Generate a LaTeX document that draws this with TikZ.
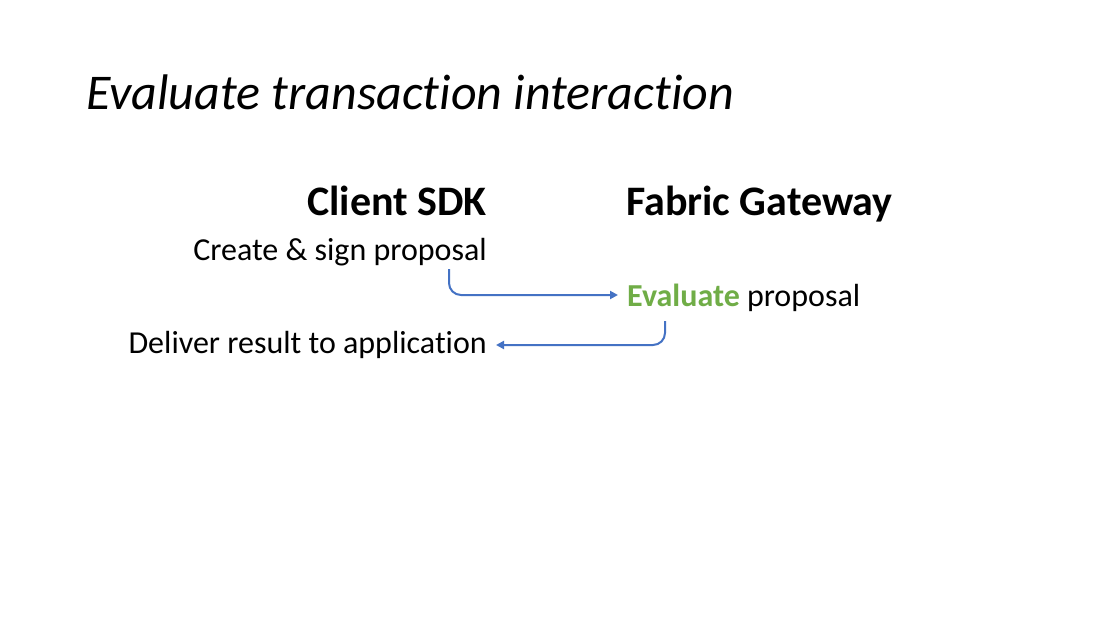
\documentclass[tikz,border=0pt]{standalone}
\usepackage{fontspec}
\setmainfont[Ligatures=NoCommon]{Carlito}
\usetikzlibrary{arrows.meta}
\definecolor{arrblue}{HTML}{4472C4}
\definecolor{evgreen}{HTML}{70AD47}
\begin{document}
\begin{tikzpicture}[x=1pt,y=-1pt,
  lbl/.style={inner sep=0pt,font=\fontsize{32}{38}\selectfont},
  head/.style={inner sep=0pt,font=\fontsize{42}{48}\selectfont\bfseries},
  flow/.style={draw=arrblue,line width=2pt,rounded corners=12pt,-{Triangle[length=8pt,width=8pt]}}]
\useasboundingbox[fill=white] (0,0) rectangle (1110,620);
\node[inner sep=0pt,anchor=base west,font=\fontsize{50}{58}\selectfont\itshape] (title) at (86,110) {Evaluate transaction interaction};
\node[head,anchor=base east] (client) at (487,216) {Client SDK};
\node[head,anchor=base west] (gw) at (626,216) {Fabric Gateway};
\node[lbl,anchor=base east] (create) at (487,260) {Create \& sign proposal};
\node[lbl,anchor=base west] (eval) at (627,306) {\textcolor{evgreen}{\bfseries Evaluate} proposal};
\node[lbl,anchor=base east] (deliver) at (487,353) {Deliver result to application};
\coordinate (s1) at (449,269);
\coordinate (s2) at (665,321);
\draw[flow] (s1) |- ([xshift=-9pt]eval.west |- 0,295);
\draw[flow] (s2) |- ([xshift=9pt]deliver.east |- 0,345);
\end{tikzpicture}
\end{document}
